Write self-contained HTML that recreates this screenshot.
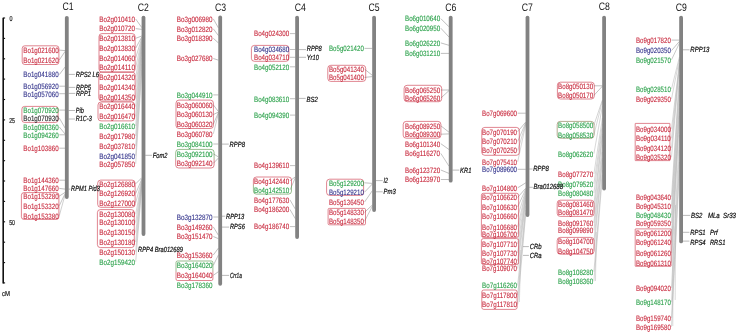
<!DOCTYPE html>
<html><head><meta charset="utf-8"><title>Chromosome map</title>
<style>html,body{margin:0;padding:0;background:#fff}svg{display:block;will-change:transform}text{text-rendering:geometricPrecision;font-family:"Liberation Sans",sans-serif}</style></head>
<body>
<svg width="738" height="334" viewBox="0 0 738 334" font-family="Liberation Sans, sans-serif">
<rect width="738" height="334" fill="#fff"/>
<defs><linearGradient id="gr" x1="0" y1="0" x2="0" y2="1"><stop offset="0.45" stop-color="#4a8a3a"/><stop offset="0.6" stop-color="#c8283c"/></linearGradient><linearGradient id="rg" x1="0" y1="0" x2="0" y2="1"><stop offset="0.4" stop-color="#c8283c"/><stop offset="0.55" stop-color="#4a8a3a"/></linearGradient></defs>
<g stroke="#111" fill="none">
<path d="M3.2 17.8 V283.4" stroke-width="1.6"/>
<path d="M3.2 18.0 H5.1" stroke-width="1.1"/>
<path d="M3.2 38.4 H5.1" stroke-width="1.1"/>
<path d="M3.2 58.8 H5.1" stroke-width="1.1"/>
<path d="M3.2 79.1 H5.1" stroke-width="1.1"/>
<path d="M3.2 99.5 H5.1" stroke-width="1.1"/>
<path d="M3.2 119.9 H5.1" stroke-width="1.1"/>
<path d="M3.2 140.3 H5.1" stroke-width="1.1"/>
<path d="M3.2 160.7 H5.1" stroke-width="1.1"/>
<path d="M3.2 181.0 H5.1" stroke-width="1.1"/>
<path d="M3.2 201.4 H5.1" stroke-width="1.1"/>
<path d="M3.2 221.8 H5.1" stroke-width="1.1"/>
<path d="M3.2 242.2 H5.1" stroke-width="1.1"/>
<path d="M3.2 262.6 H5.1" stroke-width="1.1"/>
<path d="M3.2 282.9 H5.1" stroke-width="1.1"/>
</g>
<g font-size="7.2" fill="#222" stroke="#222" stroke-width="0.2">
<text x="9.4" y="21.3" textLength="3.0" lengthAdjust="spacingAndGlyphs">0</text>
<text x="9.2" y="123.1" textLength="5.8" lengthAdjust="spacingAndGlyphs">25</text>
<text x="9.2" y="224.9" textLength="5.8" lengthAdjust="spacingAndGlyphs">50</text>
<text x="2" y="295.9" textLength="8.0" lengthAdjust="spacingAndGlyphs">cM</text>
</g>
<g stroke="#8c8c8c" stroke-width="0.55" fill="none">
<path d="M59.3 50.1 L65.1 50.6"/>
<path d="M59.3 60.0 L65.1 51.4" stroke="#8d8d8d"/>
<path d="M59.3 74.6 L65.1 67.0"/>
<path d="M59.3 86.2 H65.1"/>
<path d="M59.3 93.7 H65.1"/>
<path d="M59.3 110.1 H65.1"/>
<path d="M59.3 118.0 L65.1 128.0" stroke="#909090"/>
<path d="M59.3 127.0 L65.1 134.0"/>
<path d="M59.3 134.8 H65.1"/>
<path d="M59.3 148.2 H65.1"/>
<path d="M59.3 180.2 H65.1"/>
<path d="M59.3 188.4 L65.1 189.1"/>
<path d="M59.3 196.1 L65.1 192.4"/>
<path d="M59.3 205.7 L65.1 193.6" stroke="#959595"/>
<path d="M59.3 215.7 L65.1 194.6" stroke="#a8a8a8"/>
<path d="M135.7 19.0 L141.8 27.6" stroke="#8d8d8d"/>
<path d="M135.7 28.6 L141.8 29.4"/>
<path d="M135.7 38.3 L141.8 36.0"/>
<path d="M135.7 48.1 L141.8 37.0" stroke="#929292"/>
<path d="M135.7 57.8 L141.8 38.0" stroke="#a5a5a5"/>
<path d="M135.7 67.4 L141.8 39.0" stroke="#b8b8b8"/>
<path d="M135.7 77.3 L141.8 40.0" stroke="#b8b8b8"/>
<path d="M135.7 86.9 L141.8 41.0" stroke="#b8b8b8"/>
<path d="M135.7 97.4 L141.8 42.0" stroke="#b8b8b8"/>
<path d="M135.7 106.6 L141.8 44.0" stroke="#b8b8b8"/>
<path d="M135.7 116.5 L141.8 46.0" stroke="#b8b8b8"/>
<path d="M135.7 126.1 L141.8 48.0" stroke="#b8b8b8"/>
<path d="M135.7 136.0 L141.8 52.0" stroke="#b8b8b8"/>
<path d="M135.7 146.2 L141.8 58.0" stroke="#b8b8b8"/>
<path d="M135.7 155.7 L141.8 64.0" stroke="#b8b8b8"/>
<path d="M135.7 163.8 L141.8 70.0" stroke="#b8b8b8"/>
<path d="M135.7 183.8 L141.8 177.7"/>
<path d="M135.7 193.5 L141.8 179.0" stroke="#9a9a9a"/>
<path d="M135.7 202.7 L141.8 180.0" stroke="#acacac"/>
<path d="M135.7 214.2 L141.8 181.0" stroke="#b8b8b8"/>
<path d="M135.7 222.6 L141.8 181.6" stroke="#b8b8b8"/>
<path d="M135.7 232.5 L141.8 182.2" stroke="#b8b8b8"/>
<path d="M135.7 242.0 L141.8 183.0" stroke="#b8b8b8"/>
<path d="M135.7 251.7 L141.8 184.5" stroke="#b8b8b8"/>
<path d="M135.7 261.8 L141.8 186.0" stroke="#b8b8b8"/>
<path d="M213.3 18.9 L218.5 28.0" stroke="#8e8e8e"/>
<path d="M213.3 28.8 L218.5 35.7"/>
<path d="M213.3 38.3 L218.5 43.0"/>
<path d="M213.3 58.5 L218.5 60.2"/>
<path d="M213.3 94.9 H218.5"/>
<path d="M213.3 104.8 L218.5 111.7"/>
<path d="M213.3 114.6 L218.5 112.0"/>
<path d="M213.3 124.3 L218.5 112.4" stroke="#949494"/>
<path d="M213.3 133.8 L218.5 113.0" stroke="#a8a8a8"/>
<path d="M213.3 144.0 H218.5"/>
<path d="M213.3 153.8 L218.5 157.0"/>
<path d="M213.3 163.3 L218.5 158.0"/>
<path d="M213.3 217.0 H218.5"/>
<path d="M213.3 226.9 L218.5 235.4" stroke="#8d8d8d"/>
<path d="M213.3 236.5 L218.5 238.7"/>
<path d="M213.3 255.0 L218.5 248.0"/>
<path d="M213.3 265.4 L218.5 254.8" stroke="#919191"/>
<path d="M213.3 275.3 L218.5 271.6"/>
<path d="M289.9 33.6 H295.4"/>
<path d="M289.9 49.5 H295.4"/>
<path d="M289.9 57.3 H295.4"/>
<path d="M289.9 66.8 H295.4"/>
<path d="M289.9 98.7 H295.4"/>
<path d="M289.9 115.1 H295.4"/>
<path d="M289.9 165.6 H295.4"/>
<path d="M289.9 180.9 L295.4 176.8"/>
<path d="M289.9 190.1 L295.4 177.6" stroke="#959595"/>
<path d="M289.9 199.8 L295.4 209.2" stroke="#8f8f8f"/>
<path d="M289.9 209.4 L295.4 218.8" stroke="#8f8f8f"/>
<path d="M289.9 226.6 H295.4"/>
<path d="M364.5 48.4 H372.4"/>
<path d="M364.5 69.1 L372.4 75.4"/>
<path d="M364.5 77.4 L372.4 76.6"/>
<path d="M364.5 182.8 L372.4 183.4"/>
<path d="M364.5 192.2 L372.4 184.0" stroke="#8c8c8c"/>
<path d="M364.5 202.1 L372.4 190.6" stroke="#939393"/>
<path d="M364.5 212.4 L372.4 205.0"/>
<path d="M364.5 221.3 L372.4 206.2" stroke="#9b9b9b"/>
<path d="M440.8 18.6 L449.0 26.8" stroke="#8c8c8c"/>
<path d="M440.8 28.2 L449.0 37.0" stroke="#8d8d8d"/>
<path d="M440.8 42.9 L449.0 45.3"/>
<path d="M440.8 53.4 H449.0"/>
<path d="M440.8 90.0 H449.0"/>
<path d="M440.8 98.1 L449.0 90.6"/>
<path d="M440.8 125.8 L449.0 132.2"/>
<path d="M440.8 134.2 L449.0 133.9"/>
<path d="M440.8 143.7 L449.0 149.5"/>
<path d="M440.8 153.4 L449.0 166.2" stroke="#969696"/>
<path d="M440.8 170.0 L449.0 173.4"/>
<path d="M440.8 179.5 H449.0"/>
<path d="M517.7 113.2 H525.8"/>
<path d="M517.7 131.7 L525.8 122.0" stroke="#8f8f8f"/>
<path d="M517.7 141.4 L525.8 122.6" stroke="#a3a3a3"/>
<path d="M517.7 150.6 L525.8 123.2" stroke="#b6b6b6"/>
<path d="M517.7 161.8 L525.8 124.0" stroke="#b8b8b8"/>
<path d="M517.7 169.3 H525.8"/>
<path d="M517.7 187.8 L525.8 182.8"/>
<path d="M517.7 197.4 L525.8 188.2" stroke="#8e8e8e"/>
<path d="M517.7 206.9 L525.8 189.0" stroke="#a1a1a1"/>
<path d="M517.7 216.6 L525.8 190.0" stroke="#b4b4b4"/>
<path d="M517.7 226.8 L525.8 191.0" stroke="#b8b8b8"/>
<path d="M517.7 234.2 L525.8 192.0" stroke="#b8b8b8"/>
<path d="M517.7 244.1 L525.8 194.0" stroke="#b8b8b8"/>
<path d="M517.7 253.0 L525.8 196.0" stroke="#b8b8b8"/>
<path d="M517.7 260.8 L525.8 198.0" stroke="#b8b8b8"/>
<path d="M517.7 268.6 L525.8 200.0" stroke="#b8b8b8"/>
<path d="M517.7 285.4 L525.8 206.0" stroke="#b8b8b8"/>
<path d="M517.7 295.0 L525.8 210.0" stroke="#b8b8b8"/>
<path d="M517.7 304.5 L525.8 213.0" stroke="#b8b8b8"/>
<path d="M593.9 85.8 H602.4"/>
<path d="M593.9 95.4 L602.4 86.2" stroke="#8e8e8e"/>
<path d="M593.9 125.2 L602.4 100.0" stroke="#b1b1b1"/>
<path d="M593.9 134.8 L602.4 101.0" stroke="#b8b8b8"/>
<path d="M593.9 153.7 L602.4 106.0" stroke="#b8b8b8"/>
<path d="M593.9 174.0 L602.4 118.0" stroke="#b8b8b8"/>
<path d="M593.9 183.8 L602.4 124.0" stroke="#b8b8b8"/>
<path d="M593.9 193.1 L602.4 128.0" stroke="#b8b8b8"/>
<path d="M593.9 203.7 L602.4 134.0" stroke="#b8b8b8"/>
<path d="M593.9 212.6 L602.4 136.0" stroke="#b8b8b8"/>
<path d="M593.9 222.9 L602.4 145.0" stroke="#b8b8b8"/>
<path d="M593.9 230.3 L602.4 152.0" stroke="#b8b8b8"/>
<path d="M593.9 241.2 L602.4 158.0" stroke="#b8b8b8"/>
<path d="M593.9 250.8 L602.4 160.0" stroke="#b8b8b8"/>
<path d="M593.9 271.8 L602.4 170.0" stroke="#b8b8b8"/>
<path d="M593.9 281.3 L602.4 175.0" stroke="#b8b8b8"/>
<path d="M671.5 40.1 H679.4"/>
<path d="M671.5 50.6 L679.4 41.4" stroke="#8e8e8e"/>
<path d="M671.5 59.8 L679.4 43.2" stroke="#9e9e9e"/>
<path d="M671.5 89.0 L679.4 57.0" stroke="#b8b8b8"/>
<path d="M671.5 98.9 L679.4 59.0" stroke="#b8b8b8"/>
<path d="M671.5 128.8 L679.4 63.0" stroke="#b8b8b8"/>
<path d="M671.5 138.3 L679.4 64.0" stroke="#b8b8b8"/>
<path d="M671.5 147.9 L679.4 65.0" stroke="#b8b8b8"/>
<path d="M671.5 157.3 L679.4 66.0" stroke="#b8b8b8"/>
<path d="M671.5 196.8 L679.4 75.0" stroke="#b8b8b8"/>
<path d="M671.5 206.4 L679.4 80.0" stroke="#b8b8b8"/>
<path d="M671.5 215.3 L679.4 86.0" stroke="#b8b8b8"/>
<path d="M671.5 223.1 L679.4 95.0" stroke="#b8b8b8"/>
<path d="M671.5 233.4 L679.4 104.0" stroke="#b8b8b8"/>
<path d="M671.5 242.6 L679.4 108.0" stroke="#b8b8b8"/>
<path d="M671.5 253.1 L679.4 112.0" stroke="#b8b8b8"/>
<path d="M671.5 262.7 L679.4 116.0" stroke="#b8b8b8"/>
<path d="M671.5 287.9 L679.4 135.0" stroke="#b8b8b8"/>
<path d="M671.5 302.2 L679.4 150.0" stroke="#b8b8b8"/>
<path d="M671.5 318.0 L679.4 162.0" stroke="#b8b8b8"/>
<path d="M671.5 326.8 L679.4 170.0" stroke="#b8b8b8"/>
<path d="M672.8 326 L673 226 M675.2 300 L675.5 205 M595.5 281 L596.3 232 M519.4 302 L520.8 250" stroke="#b4b4b4" stroke-width="0.5"/>
</g>
<g stroke="#808080" stroke-width="0.55" fill="none">
<path d="M68.5 74.4 H74.9"/>
<path d="M68.5 87.4 H75.2"/>
<path d="M68.5 93.4 H75.2"/>
<path d="M68.5 110.5 H75.0"/>
<path d="M68.5 119.0 H75.0"/>
<path d="M68.5 189.1 H70.3"/>
<path d="M145.2 155.3 H152.0"/>
<path d="M221.9 144.1 H228.8"/>
<path d="M221.9 216.2 H225.2"/>
<path d="M221.9 227.1 H229.1"/>
<path d="M221.9 275.4 H229.1"/>
<path d="M298.8 49.6 H306.0"/>
<path d="M298.8 57.3 H306.0"/>
<path d="M298.8 98.4 H305.7"/>
<path d="M375.8 180.6 H382.7"/>
<path d="M375.8 191.8 H382.7"/>
<path d="M452.4 170.1 H459.3"/>
<path d="M529.2 169.0 H532.5"/>
<path d="M529.2 187.3 H532.8"/>
<path d="M523.0 246.6 H528.9"/>
<path d="M523.0 255.4 H528.9"/>
<path d="M682.8 49.8 H689.5"/>
<path d="M682.8 215.4 H690.2"/>
<path d="M682.8 232.3 H689.4"/>
<path d="M682.8 241.1 H689.4"/>
</g>
<g stroke="#828282" stroke-width="3.8" stroke-linecap="round" fill="none">
<path d="M66.8 17.8 V197.0"/>
<path d="M143.5 17.6 V234.1"/>
<path d="M220.2 17.5 V283.8"/>
<path d="M297.1 17.6 V237.0"/>
<path d="M374.1 17.6 V210.0"/>
<path d="M450.7 17.6 V180.7"/>
<path d="M527.5 17.6 V215.1"/>
<path d="M604.1 17.6 V188.6"/>
<path d="M681.1 17.6 V241.4"/>
</g>
<g font-size="10.9" fill="#111" text-anchor="middle">
<text x="68.0" y="9.9" textLength="11.1" lengthAdjust="spacingAndGlyphs">C1</text>
<text x="143.3" y="10.6" textLength="11.1" lengthAdjust="spacingAndGlyphs">C2</text>
<text x="220.5" y="10.6" textLength="11.1" lengthAdjust="spacingAndGlyphs">C3</text>
<text x="300.3" y="10.6" textLength="11.1" lengthAdjust="spacingAndGlyphs">C4</text>
<text x="374.0" y="10.6" textLength="11.1" lengthAdjust="spacingAndGlyphs">C5</text>
<text x="450.7" y="10.6" textLength="11.1" lengthAdjust="spacingAndGlyphs">C6</text>
<text x="527.4" y="10.6" textLength="11.1" lengthAdjust="spacingAndGlyphs">C7</text>
<text x="604.4" y="9.9" textLength="11.1" lengthAdjust="spacingAndGlyphs">C8</text>
<text x="681.3" y="10.6" textLength="11.1" lengthAdjust="spacingAndGlyphs">C9</text>
</g>
<g fill="none" stroke-width="0.6" stroke-opacity="0.95">
<rect x="22.2" y="45.8" width="36.7" height="18.7" rx="2.6" stroke="#c8283c"/>
<rect x="21.9" y="106.4" width="36.2" height="16.0" rx="2.6" stroke="#c8283c"/>
<rect x="21.4" y="192.6" width="37.5" height="26.8" rx="2.6" stroke="#c8283c"/>
<rect x="99.0" y="33.6" width="36.1" height="38.5" rx="3" stroke="#c8283c"/>
<rect x="98.8" y="72.1" width="36.3" height="28.9" rx="3" stroke="#c8283c"/>
<rect x="98.0" y="102.0" width="36.6" height="18.9" rx="3" stroke="#c8283c"/>
<rect x="97.7" y="180.1" width="37.4" height="27.2" rx="3" stroke="#c8283c"/>
<rect x="97.4" y="209.6" width="36.9" height="38.0" rx="3" stroke="#c8283c"/>
<rect x="176.0" y="100.1" width="37.4" height="28.4" rx="3" stroke="#c8283c"/>
<rect x="175.7" y="149.4" width="38.4" height="18.6" rx="3" stroke="url(#gr)"/>
<rect x="176.0" y="261.0" width="36.9" height="19.5" rx="1.5" stroke="url(#gr)"/>
<rect x="251.4" y="45.4" width="37.5" height="15.9" rx="3" stroke="#c8283c"/>
<rect x="253.4" y="177.0" width="38.1" height="17.1" rx="3" stroke="url(#rg)"/>
<rect x="327.8" y="65.3" width="37.9" height="16.1" rx="3" stroke="#c8283c"/>
<rect x="326.6" y="179.2" width="37.0" height="16.2" rx="3" stroke="#c8283c"/>
<rect x="328.1" y="208.4" width="37.4" height="16.4" rx="1.2" stroke="#c8283c"/>
<rect x="404.1" y="85.3" width="37.6" height="16.4" rx="3" stroke="#c8283c"/>
<rect x="403.2" y="121.4" width="37.7" height="16.8" rx="3" stroke="#c8283c"/>
<rect x="481.8" y="127.4" width="37.5" height="27.9" rx="3" stroke="#c8283c"/>
<rect x="481.4" y="193.3" width="37.2" height="44.1" rx="2" stroke="#c8283c"/>
<rect x="481.4" y="238.6" width="37.2" height="25.9" rx="2" stroke="#c8283c"/>
<rect x="481.8" y="290.0" width="35.3" height="19.4" rx="2" stroke="#c8283c"/>
<rect x="557.4" y="82.2" width="36.9" height="16.8" rx="3" stroke="#c8283c"/>
<rect x="557.2" y="121.4" width="36.8" height="16.8" rx="3" stroke="#7a6a3a"/>
<rect x="557.2" y="200.2" width="36.8" height="16.2" rx="3" stroke="#c8283c"/>
<rect x="557.2" y="237.4" width="36.8" height="16.8" rx="3" stroke="#c8283c"/>
<rect x="635.2" y="123.4" width="34.7" height="37.2" rx="0.3" stroke="#c8283c"/>
<rect x="635.2" y="228.9" width="35.9" height="37.4" rx="0.3" stroke="#c8283c"/>
</g>
<g font-size="7.8" stroke-width="0.1">
<text x="23.3" y="52.9" fill="#c8283c" stroke="#c8283c" textLength="35.3" lengthAdjust="spacingAndGlyphs">Bo1g021600</text>
<text x="23.3" y="62.8" fill="#c8283c" stroke="#c8283c" textLength="35.3" lengthAdjust="spacingAndGlyphs">Bo1g021620</text>
<text x="23.3" y="77.4" fill="#30308a" stroke="#30308a" textLength="35.3" lengthAdjust="spacingAndGlyphs">Bo1g041880</text>
<text x="23.3" y="89.0" fill="#30308a" stroke="#30308a" textLength="35.3" lengthAdjust="spacingAndGlyphs">Bo1g056920</text>
<text x="23.3" y="96.5" fill="#30308a" stroke="#30308a" textLength="35.3" lengthAdjust="spacingAndGlyphs">Bo1g057060</text>
<text x="23.3" y="112.9" fill="#28a048" stroke="#28a048" textLength="35.3" lengthAdjust="spacingAndGlyphs">Bo1g070920</text>
<text x="23.3" y="120.8" fill="#222222" stroke="#222222" textLength="35.3" lengthAdjust="spacingAndGlyphs">Bo1g070930</text>
<text x="23.3" y="129.8" fill="#28a048" stroke="#28a048" textLength="35.3" lengthAdjust="spacingAndGlyphs">Bo1g090360</text>
<text x="23.3" y="137.6" fill="#28a048" stroke="#28a048" textLength="35.3" lengthAdjust="spacingAndGlyphs">Bo1g094260</text>
<text x="23.3" y="151.0" fill="#c8283c" stroke="#c8283c" textLength="35.3" lengthAdjust="spacingAndGlyphs">Bo1g103860</text>
<text x="23.3" y="183.0" fill="#c8283c" stroke="#c8283c" textLength="35.3" lengthAdjust="spacingAndGlyphs">Bo1g144360</text>
<text x="23.3" y="191.2" fill="#c8283c" stroke="#c8283c" textLength="35.3" lengthAdjust="spacingAndGlyphs">Bo1g147660</text>
<text x="23.3" y="198.9" fill="#c8283c" stroke="#c8283c" textLength="35.3" lengthAdjust="spacingAndGlyphs">Bo1g153280</text>
<text x="23.3" y="208.5" fill="#c8283c" stroke="#c8283c" textLength="35.3" lengthAdjust="spacingAndGlyphs">Bo1g153320</text>
<text x="23.3" y="218.5" fill="#c8283c" stroke="#c8283c" textLength="35.3" lengthAdjust="spacingAndGlyphs">Bo1g153380</text>
<text x="99.2" y="21.8" fill="#c8283c" stroke="#c8283c" textLength="35.8" lengthAdjust="spacingAndGlyphs">Bo2g010410</text>
<text x="99.2" y="31.4" fill="#c8283c" stroke="#c8283c" textLength="35.8" lengthAdjust="spacingAndGlyphs">Bo2g010720</text>
<text x="99.2" y="41.1" fill="#c8283c" stroke="#c8283c" textLength="35.8" lengthAdjust="spacingAndGlyphs">Bo2g013810</text>
<text x="99.2" y="50.9" fill="#c8283c" stroke="#c8283c" textLength="35.8" lengthAdjust="spacingAndGlyphs">Bo2g013830</text>
<text x="99.2" y="60.6" fill="#c8283c" stroke="#c8283c" textLength="35.8" lengthAdjust="spacingAndGlyphs">Bo2g014060</text>
<text x="99.2" y="70.2" fill="#c8283c" stroke="#c8283c" textLength="35.8" lengthAdjust="spacingAndGlyphs">Bo2g014110</text>
<text x="99.2" y="80.1" fill="#c8283c" stroke="#c8283c" textLength="35.8" lengthAdjust="spacingAndGlyphs">Bo2g014320</text>
<text x="99.2" y="89.7" fill="#c8283c" stroke="#c8283c" textLength="35.8" lengthAdjust="spacingAndGlyphs">Bo2g014340</text>
<text x="99.2" y="100.2" fill="#c8283c" stroke="#c8283c" textLength="35.8" lengthAdjust="spacingAndGlyphs">Bo2g014350</text>
<text x="99.2" y="109.4" fill="#c8283c" stroke="#c8283c" textLength="35.8" lengthAdjust="spacingAndGlyphs">Bo2g016440</text>
<text x="99.2" y="119.3" fill="#c8283c" stroke="#c8283c" textLength="35.8" lengthAdjust="spacingAndGlyphs">Bo2g016470</text>
<text x="99.2" y="128.9" fill="#28a048" stroke="#28a048" textLength="35.8" lengthAdjust="spacingAndGlyphs">Bo2g016610</text>
<text x="99.2" y="138.8" fill="#c8283c" stroke="#c8283c" textLength="35.8" lengthAdjust="spacingAndGlyphs">Bo2g017980</text>
<text x="99.2" y="149.0" fill="#c8283c" stroke="#c8283c" textLength="35.8" lengthAdjust="spacingAndGlyphs">Bo2g037810</text>
<text x="99.2" y="158.5" fill="#30308a" stroke="#30308a" textLength="35.8" lengthAdjust="spacingAndGlyphs">Bo2g041850</text>
<text x="99.2" y="166.6" fill="#c8283c" stroke="#c8283c" textLength="35.8" lengthAdjust="spacingAndGlyphs">Bo2g057850</text>
<text x="99.2" y="186.6" fill="#c8283c" stroke="#c8283c" textLength="35.8" lengthAdjust="spacingAndGlyphs">Bo2g126880</text>
<text x="99.2" y="196.3" fill="#c8283c" stroke="#c8283c" textLength="35.8" lengthAdjust="spacingAndGlyphs">Bo2g126920</text>
<text x="99.2" y="205.5" fill="#c8283c" stroke="#c8283c" textLength="35.8" lengthAdjust="spacingAndGlyphs">Bo2g127000</text>
<text x="99.2" y="217.0" fill="#c8283c" stroke="#c8283c" textLength="35.8" lengthAdjust="spacingAndGlyphs">Bo2g130080</text>
<text x="99.2" y="225.4" fill="#c8283c" stroke="#c8283c" textLength="35.8" lengthAdjust="spacingAndGlyphs">Bo2g130100</text>
<text x="99.2" y="235.3" fill="#c8283c" stroke="#c8283c" textLength="35.8" lengthAdjust="spacingAndGlyphs">Bo2g130150</text>
<text x="99.2" y="244.8" fill="#c8283c" stroke="#c8283c" textLength="35.8" lengthAdjust="spacingAndGlyphs">Bo2g130180</text>
<text x="99.2" y="254.5" fill="#c8283c" stroke="#c8283c" textLength="35.8" lengthAdjust="spacingAndGlyphs">Bo2g150130</text>
<text x="99.2" y="264.6" fill="#28a048" stroke="#28a048" textLength="35.8" lengthAdjust="spacingAndGlyphs">Bo2g159420</text>
<text x="176.8" y="21.7" fill="#c8283c" stroke="#c8283c" textLength="35.8" lengthAdjust="spacingAndGlyphs">Bo3g006980</text>
<text x="176.8" y="31.6" fill="#c8283c" stroke="#c8283c" textLength="35.8" lengthAdjust="spacingAndGlyphs">Bo3g012820</text>
<text x="176.8" y="41.1" fill="#c8283c" stroke="#c8283c" textLength="35.8" lengthAdjust="spacingAndGlyphs">Bo3g018390</text>
<text x="176.8" y="61.3" fill="#c8283c" stroke="#c8283c" textLength="35.8" lengthAdjust="spacingAndGlyphs">Bo3g027680</text>
<text x="176.8" y="97.7" fill="#28a048" stroke="#28a048" textLength="35.8" lengthAdjust="spacingAndGlyphs">Bo3g044910</text>
<text x="176.8" y="107.6" fill="#c8283c" stroke="#c8283c" textLength="35.8" lengthAdjust="spacingAndGlyphs">Bo3g060060</text>
<text x="176.8" y="117.4" fill="#c8283c" stroke="#c8283c" textLength="35.8" lengthAdjust="spacingAndGlyphs">Bo3g060130</text>
<text x="176.8" y="127.1" fill="#c8283c" stroke="#c8283c" textLength="35.8" lengthAdjust="spacingAndGlyphs">Bo3g060320</text>
<text x="176.8" y="136.6" fill="#c8283c" stroke="#c8283c" textLength="35.8" lengthAdjust="spacingAndGlyphs">Bo3g060780</text>
<text x="176.8" y="146.8" fill="#28a048" stroke="#28a048" textLength="35.8" lengthAdjust="spacingAndGlyphs">Bo3g084100</text>
<text x="176.8" y="156.6" fill="#28a048" stroke="#28a048" textLength="35.8" lengthAdjust="spacingAndGlyphs">Bo3g092100</text>
<text x="176.8" y="166.1" fill="#c8283c" stroke="#c8283c" textLength="35.8" lengthAdjust="spacingAndGlyphs">Bo3g092140</text>
<text x="176.8" y="219.8" fill="#30308a" stroke="#30308a" textLength="35.8" lengthAdjust="spacingAndGlyphs">Bo3g132870</text>
<text x="176.8" y="229.7" fill="#c8283c" stroke="#c8283c" textLength="35.8" lengthAdjust="spacingAndGlyphs">Bo3g149260</text>
<text x="176.8" y="239.3" fill="#c8283c" stroke="#c8283c" textLength="35.8" lengthAdjust="spacingAndGlyphs">Bo3g151470</text>
<text x="176.8" y="257.8" fill="#c8283c" stroke="#c8283c" textLength="35.8" lengthAdjust="spacingAndGlyphs">Bo3g153660</text>
<text x="176.8" y="268.2" fill="#28a048" stroke="#28a048" textLength="35.8" lengthAdjust="spacingAndGlyphs">Bo3g164020</text>
<text x="176.8" y="278.1" fill="#c8283c" stroke="#c8283c" textLength="35.8" lengthAdjust="spacingAndGlyphs">Bo3g164040</text>
<text x="176.8" y="287.7" fill="#28a048" stroke="#28a048" textLength="35.8" lengthAdjust="spacingAndGlyphs">Bo3g178360</text>
<text x="254.0" y="36.4" fill="#c8283c" stroke="#c8283c" textLength="35.2" lengthAdjust="spacingAndGlyphs">Bo4g024300</text>
<text x="254.0" y="52.3" fill="#30308a" stroke="#30308a" textLength="35.2" lengthAdjust="spacingAndGlyphs">Bo4g034680</text>
<text x="254.0" y="60.1" fill="#c8283c" stroke="#c8283c" textLength="35.2" lengthAdjust="spacingAndGlyphs">Bo4g034710</text>
<text x="254.0" y="69.6" fill="#28a048" stroke="#28a048" textLength="35.2" lengthAdjust="spacingAndGlyphs">Bo4g052120</text>
<text x="254.0" y="101.5" fill="#28a048" stroke="#28a048" textLength="35.2" lengthAdjust="spacingAndGlyphs">Bo4g083610</text>
<text x="254.0" y="117.9" fill="#28a048" stroke="#28a048" textLength="35.2" lengthAdjust="spacingAndGlyphs">Bo4g094390</text>
<text x="254.0" y="168.4" fill="#c8283c" stroke="#c8283c" textLength="35.2" lengthAdjust="spacingAndGlyphs">Bo4g139610</text>
<text x="254.0" y="183.7" fill="#c8283c" stroke="#c8283c" textLength="35.2" lengthAdjust="spacingAndGlyphs">Bo4g142440</text>
<text x="254.0" y="192.9" fill="#28a048" stroke="#28a048" textLength="35.2" lengthAdjust="spacingAndGlyphs">Bo4g142510</text>
<text x="254.0" y="202.6" fill="#c8283c" stroke="#c8283c" textLength="35.2" lengthAdjust="spacingAndGlyphs">Bo4g177630</text>
<text x="254.0" y="212.2" fill="#c8283c" stroke="#c8283c" textLength="35.2" lengthAdjust="spacingAndGlyphs">Bo4g186200</text>
<text x="254.0" y="229.4" fill="#c8283c" stroke="#c8283c" textLength="35.2" lengthAdjust="spacingAndGlyphs">Bo4g186740</text>
<text x="329.0" y="51.2" fill="#28a048" stroke="#28a048" textLength="34.8" lengthAdjust="spacingAndGlyphs">Bo5g021420</text>
<text x="329.0" y="71.9" fill="#c8283c" stroke="#c8283c" textLength="34.8" lengthAdjust="spacingAndGlyphs">Bo5g041340</text>
<text x="329.0" y="80.2" fill="#c8283c" stroke="#c8283c" textLength="34.8" lengthAdjust="spacingAndGlyphs">Bo5g041400</text>
<text x="329.0" y="185.6" fill="#28a048" stroke="#28a048" textLength="34.8" lengthAdjust="spacingAndGlyphs">Bo5g129200</text>
<text x="329.0" y="195.0" fill="#30308a" stroke="#30308a" textLength="34.8" lengthAdjust="spacingAndGlyphs">Bo5g129210</text>
<text x="329.0" y="204.9" fill="#c8283c" stroke="#c8283c" textLength="34.8" lengthAdjust="spacingAndGlyphs">Bo5g136450</text>
<text x="329.0" y="215.2" fill="#c8283c" stroke="#c8283c" textLength="34.8" lengthAdjust="spacingAndGlyphs">Bo5g148330</text>
<text x="329.0" y="224.1" fill="#c8283c" stroke="#c8283c" textLength="34.8" lengthAdjust="spacingAndGlyphs">Bo5g148350</text>
<text x="405.0" y="21.4" fill="#28a048" stroke="#28a048" textLength="35.1" lengthAdjust="spacingAndGlyphs">Bo6g010640</text>
<text x="405.0" y="31.0" fill="#28a048" stroke="#28a048" textLength="35.1" lengthAdjust="spacingAndGlyphs">Bo6g020950</text>
<text x="405.0" y="45.7" fill="#28a048" stroke="#28a048" textLength="35.1" lengthAdjust="spacingAndGlyphs">Bo6g026220</text>
<text x="405.0" y="56.2" fill="#28a048" stroke="#28a048" textLength="35.1" lengthAdjust="spacingAndGlyphs">Bo6g031210</text>
<text x="405.0" y="92.8" fill="#c8283c" stroke="#c8283c" textLength="35.1" lengthAdjust="spacingAndGlyphs">Bo6g065250</text>
<text x="405.0" y="100.9" fill="#c8283c" stroke="#c8283c" textLength="35.1" lengthAdjust="spacingAndGlyphs">Bo6g065260</text>
<text x="405.0" y="128.6" fill="#c8283c" stroke="#c8283c" textLength="35.1" lengthAdjust="spacingAndGlyphs">Bo6g089250</text>
<text x="405.0" y="137.0" fill="#c8283c" stroke="#c8283c" textLength="35.1" lengthAdjust="spacingAndGlyphs">Bo6g089300</text>
<text x="405.0" y="146.5" fill="#c8283c" stroke="#c8283c" textLength="35.1" lengthAdjust="spacingAndGlyphs">Bo6g101340</text>
<text x="405.0" y="156.2" fill="#c8283c" stroke="#c8283c" textLength="35.1" lengthAdjust="spacingAndGlyphs">Bo6g116270</text>
<text x="405.0" y="172.8" fill="#c8283c" stroke="#c8283c" textLength="35.1" lengthAdjust="spacingAndGlyphs">Bo6g123720</text>
<text x="405.0" y="182.3" fill="#c8283c" stroke="#c8283c" textLength="35.1" lengthAdjust="spacingAndGlyphs">Bo6g123970</text>
<text x="482.1" y="116.0" fill="#c8283c" stroke="#c8283c" textLength="34.9" lengthAdjust="spacingAndGlyphs">Bo7g069600</text>
<text x="482.1" y="134.5" fill="#c8283c" stroke="#c8283c" textLength="34.9" lengthAdjust="spacingAndGlyphs">Bo7g070190</text>
<text x="482.1" y="144.2" fill="#c8283c" stroke="#c8283c" textLength="34.9" lengthAdjust="spacingAndGlyphs">Bo7g070210</text>
<text x="482.1" y="153.4" fill="#c8283c" stroke="#c8283c" textLength="34.9" lengthAdjust="spacingAndGlyphs">Bo7g070250</text>
<text x="482.1" y="164.6" fill="#c8283c" stroke="#c8283c" textLength="34.9" lengthAdjust="spacingAndGlyphs">Bo7g075410</text>
<text x="482.1" y="172.1" fill="#30308a" stroke="#30308a" textLength="34.9" lengthAdjust="spacingAndGlyphs">Bo7g089600</text>
<text x="482.1" y="190.6" fill="#c8283c" stroke="#c8283c" textLength="34.9" lengthAdjust="spacingAndGlyphs">Bo7g104800</text>
<text x="482.1" y="200.2" fill="#c8283c" stroke="#c8283c" textLength="34.9" lengthAdjust="spacingAndGlyphs">Bo7g106620</text>
<text x="482.1" y="209.7" fill="#c8283c" stroke="#c8283c" textLength="34.9" lengthAdjust="spacingAndGlyphs">Bo7g106630</text>
<text x="482.1" y="219.4" fill="#c8283c" stroke="#c8283c" textLength="34.9" lengthAdjust="spacingAndGlyphs">Bo7g106660</text>
<text x="482.1" y="229.6" fill="#c8283c" stroke="#c8283c" textLength="34.9" lengthAdjust="spacingAndGlyphs">Bo7g106680</text>
<text x="482.1" y="237.0" fill="#c8283c" stroke="#c8283c" textLength="34.9" lengthAdjust="spacingAndGlyphs">Bo7g106700</text>
<text x="482.1" y="246.9" fill="#c8283c" stroke="#c8283c" textLength="34.9" lengthAdjust="spacingAndGlyphs">Bo7g107710</text>
<text x="482.1" y="255.8" fill="#c8283c" stroke="#c8283c" textLength="34.9" lengthAdjust="spacingAndGlyphs">Bo7g107730</text>
<text x="482.1" y="263.6" fill="#c8283c" stroke="#c8283c" textLength="34.9" lengthAdjust="spacingAndGlyphs">Bo7g107740</text>
<text x="482.1" y="271.4" fill="#c8283c" stroke="#c8283c" textLength="34.9" lengthAdjust="spacingAndGlyphs">Bo7g109070</text>
<text x="482.1" y="288.2" fill="#28a048" stroke="#28a048" textLength="34.9" lengthAdjust="spacingAndGlyphs">Bo7g116260</text>
<text x="482.1" y="297.8" fill="#c8283c" stroke="#c8283c" textLength="34.9" lengthAdjust="spacingAndGlyphs">Bo7g117800</text>
<text x="482.1" y="307.3" fill="#c8283c" stroke="#c8283c" textLength="34.9" lengthAdjust="spacingAndGlyphs">Bo7g117810</text>
<text x="558.1" y="88.6" fill="#c8283c" stroke="#c8283c" textLength="35.1" lengthAdjust="spacingAndGlyphs">Bo8g050130</text>
<text x="558.1" y="98.2" fill="#c8283c" stroke="#c8283c" textLength="35.1" lengthAdjust="spacingAndGlyphs">Bo8g050170</text>
<text x="558.1" y="128.0" fill="#28a048" stroke="#28a048" textLength="35.1" lengthAdjust="spacingAndGlyphs">Bo8g058500</text>
<text x="558.1" y="137.6" fill="#28a048" stroke="#28a048" textLength="35.1" lengthAdjust="spacingAndGlyphs">Bo8g058530</text>
<text x="558.1" y="156.5" fill="#28a048" stroke="#28a048" textLength="35.1" lengthAdjust="spacingAndGlyphs">Bo8g062620</text>
<text x="558.1" y="176.8" fill="#c8283c" stroke="#c8283c" textLength="35.1" lengthAdjust="spacingAndGlyphs">Bo8g077270</text>
<text x="558.1" y="186.6" fill="#28a048" stroke="#28a048" textLength="35.1" lengthAdjust="spacingAndGlyphs">Bo8g079520</text>
<text x="558.1" y="195.9" fill="#28a048" stroke="#28a048" textLength="35.1" lengthAdjust="spacingAndGlyphs">Bo8g080480</text>
<text x="558.1" y="206.5" fill="#c8283c" stroke="#c8283c" textLength="35.1" lengthAdjust="spacingAndGlyphs">Bo8g081460</text>
<text x="558.1" y="215.4" fill="#c8283c" stroke="#c8283c" textLength="35.1" lengthAdjust="spacingAndGlyphs">Bo8g081470</text>
<text x="558.1" y="225.7" fill="#c8283c" stroke="#c8283c" textLength="35.1" lengthAdjust="spacingAndGlyphs">Bo8g091760</text>
<text x="558.1" y="233.1" fill="#c8283c" stroke="#c8283c" textLength="35.1" lengthAdjust="spacingAndGlyphs">Bo8g099890</text>
<text x="558.1" y="244.0" fill="#c8283c" stroke="#c8283c" textLength="35.1" lengthAdjust="spacingAndGlyphs">Bo8g104700</text>
<text x="558.1" y="253.6" fill="#c8283c" stroke="#c8283c" textLength="35.1" lengthAdjust="spacingAndGlyphs">Bo8g104750</text>
<text x="558.1" y="274.6" fill="#28a048" stroke="#28a048" textLength="35.1" lengthAdjust="spacingAndGlyphs">Bo8g108280</text>
<text x="558.1" y="284.1" fill="#28a048" stroke="#28a048" textLength="35.1" lengthAdjust="spacingAndGlyphs">Bo8g108360</text>
<text x="636.0" y="42.9" fill="#c8283c" stroke="#c8283c" textLength="34.8" lengthAdjust="spacingAndGlyphs">Bo9g017820</text>
<text x="636.0" y="53.4" fill="#30308a" stroke="#30308a" textLength="34.8" lengthAdjust="spacingAndGlyphs">Bo9g020350</text>
<text x="636.0" y="62.6" fill="#28a048" stroke="#28a048" textLength="34.8" lengthAdjust="spacingAndGlyphs">Bo9g021570</text>
<text x="636.0" y="91.8" fill="#28a048" stroke="#28a048" textLength="34.8" lengthAdjust="spacingAndGlyphs">Bo9g028510</text>
<text x="636.0" y="101.7" fill="#c8283c" stroke="#c8283c" textLength="34.8" lengthAdjust="spacingAndGlyphs">Bo9g029350</text>
<text x="636.0" y="131.6" fill="#c8283c" stroke="#c8283c" textLength="34.8" lengthAdjust="spacingAndGlyphs">Bo9g034000</text>
<text x="636.0" y="141.1" fill="#c8283c" stroke="#c8283c" textLength="34.8" lengthAdjust="spacingAndGlyphs">Bo9g034110</text>
<text x="636.0" y="150.7" fill="#c8283c" stroke="#c8283c" textLength="34.8" lengthAdjust="spacingAndGlyphs">Bo9g034120</text>
<text x="636.0" y="160.1" fill="#c8283c" stroke="#c8283c" textLength="34.8" lengthAdjust="spacingAndGlyphs">Bo9g035320</text>
<text x="636.0" y="199.6" fill="#c8283c" stroke="#c8283c" textLength="34.8" lengthAdjust="spacingAndGlyphs">Bo9g043640</text>
<text x="636.0" y="209.2" fill="#c8283c" stroke="#c8283c" textLength="34.8" lengthAdjust="spacingAndGlyphs">Bo9g045310</text>
<text x="636.0" y="218.1" fill="#28a048" stroke="#28a048" textLength="34.8" lengthAdjust="spacingAndGlyphs">Bo9g048430</text>
<text x="636.0" y="225.9" fill="#c8283c" stroke="#c8283c" textLength="34.8" lengthAdjust="spacingAndGlyphs">Bo9g059350</text>
<text x="636.0" y="236.2" fill="#c8283c" stroke="#c8283c" textLength="34.8" lengthAdjust="spacingAndGlyphs">Bo9g061200</text>
<text x="636.0" y="245.4" fill="#c8283c" stroke="#c8283c" textLength="34.8" lengthAdjust="spacingAndGlyphs">Bo9g061240</text>
<text x="636.0" y="255.9" fill="#c8283c" stroke="#c8283c" textLength="34.8" lengthAdjust="spacingAndGlyphs">Bo9g061260</text>
<text x="636.0" y="265.5" fill="#c8283c" stroke="#c8283c" textLength="34.8" lengthAdjust="spacingAndGlyphs">Bo9g061310</text>
<text x="636.0" y="290.7" fill="#c8283c" stroke="#c8283c" textLength="34.8" lengthAdjust="spacingAndGlyphs">Bo9g094020</text>
<text x="636.0" y="305.0" fill="#28a048" stroke="#28a048" textLength="34.8" lengthAdjust="spacingAndGlyphs">Bo9g148170</text>
<text x="636.0" y="320.8" fill="#c8283c" stroke="#c8283c" textLength="34.8" lengthAdjust="spacingAndGlyphs">Bo9g159740</text>
<text x="636.0" y="329.6" fill="#c8283c" stroke="#c8283c" textLength="34.8" lengthAdjust="spacingAndGlyphs">Bo9g169580</text>
</g>
<g font-size="7.5" font-style="italic" fill="#111" stroke="#111" stroke-width="0.22">
<text x="75.7" y="77.4" textLength="23.3" lengthAdjust="spacingAndGlyphs">RPS2 L6</text>
<text x="76.0" y="89.5" textLength="14.9" lengthAdjust="spacingAndGlyphs">RPP5</text>
<text x="76.0" y="95.8" textLength="14.9" lengthAdjust="spacingAndGlyphs">RPP1</text>
<text x="75.8" y="113.3" textLength="8.1" lengthAdjust="spacingAndGlyphs">Pib</text>
<text x="75.8" y="121.4" textLength="16.0" lengthAdjust="spacingAndGlyphs">R1C-3</text>
<text x="71.1" y="191.2" textLength="28.7" lengthAdjust="spacingAndGlyphs">RPM1 Pid3</text>
<text x="152.8" y="157.6" textLength="14.6" lengthAdjust="spacingAndGlyphs">Fom2</text>
<text x="138.1" y="251.8" textLength="44.8" lengthAdjust="spacingAndGlyphs">RPP4 Bra012689</text>
<text x="229.6" y="146.8" textLength="15.3" lengthAdjust="spacingAndGlyphs">RPP8</text>
<text x="226.0" y="219.0" textLength="18.3" lengthAdjust="spacingAndGlyphs">RPP13</text>
<text x="229.9" y="229.1" textLength="15.0" lengthAdjust="spacingAndGlyphs">RPS6</text>
<text x="229.9" y="277.8" textLength="12.0" lengthAdjust="spacingAndGlyphs">Crr1a</text>
<text x="306.8" y="51.4" textLength="14.9" lengthAdjust="spacingAndGlyphs">RPP8</text>
<text x="306.8" y="60.1" textLength="12.0" lengthAdjust="spacingAndGlyphs">Yr10</text>
<text x="306.5" y="102.0" textLength="11.3" lengthAdjust="spacingAndGlyphs">BS2</text>
<text x="383.5" y="183.4" textLength="4.5" lengthAdjust="spacingAndGlyphs">I2</text>
<text x="383.5" y="194.2" textLength="12.2" lengthAdjust="spacingAndGlyphs">Pm3</text>
<text x="460.1" y="172.5" textLength="11.3" lengthAdjust="spacingAndGlyphs">KR1</text>
<text x="533.3" y="170.5" textLength="15.6" lengthAdjust="spacingAndGlyphs">RPP8</text>
<text x="533.6" y="189.0" textLength="29.4" lengthAdjust="spacingAndGlyphs">Bra012688</text>
<text x="529.7" y="249.0" textLength="12.0" lengthAdjust="spacingAndGlyphs">CRb</text>
<text x="529.7" y="257.8" textLength="12.0" lengthAdjust="spacingAndGlyphs">CRa</text>
<text x="690.3" y="52.2" textLength="19.1" lengthAdjust="spacingAndGlyphs">RPP13</text>
<text x="691.0" y="217.8" textLength="11.4" lengthAdjust="spacingAndGlyphs">BS2</text>
<text x="707.9" y="217.8" textLength="11.8" lengthAdjust="spacingAndGlyphs">MLa</text>
<text x="723.1" y="217.8" textLength="12.9" lengthAdjust="spacingAndGlyphs">Sr33</text>
<text x="690.2" y="234.6" textLength="15.4" lengthAdjust="spacingAndGlyphs">RPS1</text>
<text x="709.9" y="234.6" textLength="7.7" lengthAdjust="spacingAndGlyphs">Prf</text>
<text x="690.2" y="244.6" textLength="15.4" lengthAdjust="spacingAndGlyphs">RPS4</text>
<text x="709.9" y="244.6" textLength="15.5" lengthAdjust="spacingAndGlyphs">RRS1</text>
</g>
</svg>
</body></html>
